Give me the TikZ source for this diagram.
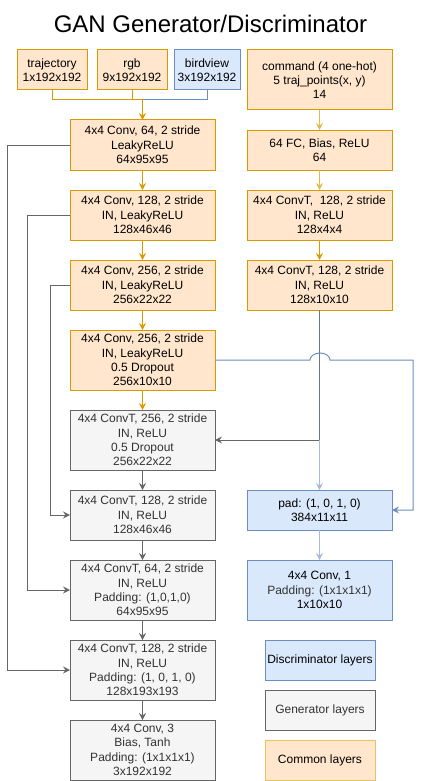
\documentclass[tikz,border=0pt]{standalone}
\usepackage{fontspec}
\setmainfont{Liberation Sans}
\usetikzlibrary{arrows.meta, positioning}
\definecolor{comfill}{HTML}{FFE6CC}
\definecolor{comline}{HTML}{D79B00}
\definecolor{disfill}{HTML}{DAE8FC}
\definecolor{disline}{HTML}{6C8EBF}
\definecolor{genfill}{HTML}{F5F5F5}
\definecolor{genline}{HTML}{666666}
\definecolor{gentext}{HTML}{333333}

\begin{document}
\begin{tikzpicture}[x=1pt, y=-1pt,
      node distance=20pt,
      layer/.style={draw, line width=1pt, align=center, inner sep=0pt, outer sep=0pt, minimum width=145pt, minimum height=50pt, font=\fontsize{12}{14.3}\selectfont},
      common/.style={layer, fill=comfill, draw=comline},
      gen/.style={layer, fill=genfill, draw=genline, text=gentext},
      disc/.style={layer, fill=disfill, draw=disline},
      inp/.style={minimum width=70pt, minimum height=40pt},
      arr/.style={-{Stealth[length=7pt, width=7pt, inset=2.5pt]}, line width=1pt},
      link/.style={line width=1pt}]
    \useasboundingbox (0,0) rectangle (421,781);
    \node[font=\fontsize{24}{28}\selectfont] (title) at (210.5,24) {GAN Generator/Discriminator};
    % inputs
    \node[common, inp] (traj) at (52,70) {trajectory\\1x192x192};
    \node[common, inp] (rgb) at (132,70) {rgb\\9x192x192};
    \node[disc, inp, minimum width=66pt] (bird) at (207,70) {birdview\\3x192x192};
    \node[common, minimum height=60pt] (cmd) at (319.5,80) {command (4 one-hot)\\5 traj\_points(x, y)\\14};
    % common layers
    \node[common] (c64) at (142.5,145) {4x4 Conv, 64, 2 stride\\LeakyReLU\\64x95x95};
    \node[common, below=of c64] (c128) {4x4 Conv, 128, 2 stride\\IN, LeakyReLU\\128x46x46};
    \node[common, below=of c128] (c256) {4x4 Conv, 256, 2 stride\\IN, LeakyReLU\\256x22x22};
    \node[common, below=of c256, minimum height=60pt] (drop) {4x4 Conv, 256, 2 stride\\IN, LeakyReLU\\0.5 Dropout\\256x10x10};
    \node[common, below=of cmd, minimum height=40pt] (fc) {64 FC, Bias, ReLU\\64};
    \node[common, below=of fc] (ct4) {4x4 ConvT,\ \ 128, 2 stride\\IN, ReLU\\128x4x4};
    \node[common, below=of ct4] (ct10) {4x4 ConvT, 128, 2 stride\\IN, ReLU\\128x10x10};
    % generator layers
    \node[gen, below=of drop, minimum height=60pt] (ct256) {4x4 ConvT, 256, 2 stride\\IN, ReLU\\0.5 Dropout\\256x22x22};
    \node[gen, below=of ct256] (ct46) {4x4 ConvT, 128, 2 stride\\IN, ReLU\\128x46x46};
    \node[gen, below=of ct46, minimum height=60pt] (ct95) {4x4 ConvT, 64, 2 stride\\IN, ReLU\\Padding: (1,0,1,0)\\64x95x95};
    \node[gen, below=of ct95, minimum height=60pt] (ct193) {4x4 ConvT, 128, 2 stride\\IN, ReLU\\Padding: (1, 0, 1, 0)\\128x193x193};
    \node[gen, below=of ct193, minimum height=60pt] (out) {4x4 Conv, 3\\Bias, Tanh\\Padding: (1x1x1x1)\\3x192x192};
    % discriminator layers
    \node[disc, minimum height=40pt] (pad) at (319.5,510) {pad: (1, 0, 1, 0)\\384x11x11};
    \node[disc, below=30pt of pad, minimum height=60pt] (dout) {4x4 Conv, 1\\{\color{gentext}Padding: (1x1x1x1)}\\1x10x10};
    % legend
    \node[disc, minimum width=110pt, minimum height=40pt] (legd) at (320,660) {Discriminator layers};
    \node[gen, minimum width=110pt, minimum height=40pt] (legg) at (320,710) {Generator layers};
    \node[common, draw=comline!60, minimum width=110pt, minimum height=40pt] (legc) at (320,760) {Common layers};

    % inputs into first conv
    \coordinate (join) at (142.5,100);
    \draw[link, disline] (bird.south) |- (join);
    \draw[link, comline] (traj.south) |- (join);
    \draw[link, comline] (rgb.south) |- (join);
    \draw[arr, comline] (join) -- (c64);
    % main chains
    \draw[arr, comline] (c64) -- (c128);
    \draw[arr, comline] (c128) -- (c256);
    \draw[arr, comline] (c256) -- (drop);
    \draw[arr, comline] (drop) -- (ct256);
    \draw[arr, comline!70] (cmd) -- (fc);
    \draw[arr, comline!70] (fc) -- (ct4);
    \draw[arr, comline] (ct4) -- (ct10);
    \draw[arr, genline] (ct256) -- (ct46);
    \draw[arr, genline] (ct46) -- (ct95);
    \draw[arr, genline] (ct95) -- (ct193);
    \draw[arr, genline] (ct193) -- (out);
    \draw[arr, disline!60] (pad) -- (dout);
    % skip connections
    \draw[arr, genline] (c64.west) -- ++(-63,0) |- (ct193.west);
    \draw[arr, genline] (c128.west) -- ++(-43,0) |- (ct95.west);
    \draw[arr, genline] (c256.west) -- ++(-20,0) |- (ct46.west);
    % latent split
    \coordinate (split) at (ct10.south |- ct256.east);
    \draw[link, genline!55!disline] (ct10.south) -- (split);
    \draw[arr, genline] (split) -- (ct256.east);
    \draw[arr, disline!60] (split) -- (pad.north);
    % feature map to discriminator
    \coordinate (hop) at (310,360);
    \coordinate (turn) at (413,360);
    \draw[arr, disline] (drop.east) -- (hop) arc[start angle=180, end angle=360, x radius=10, y radius=7] -- (turn) |- (pad.east);
  \end{tikzpicture}
\end{document}
